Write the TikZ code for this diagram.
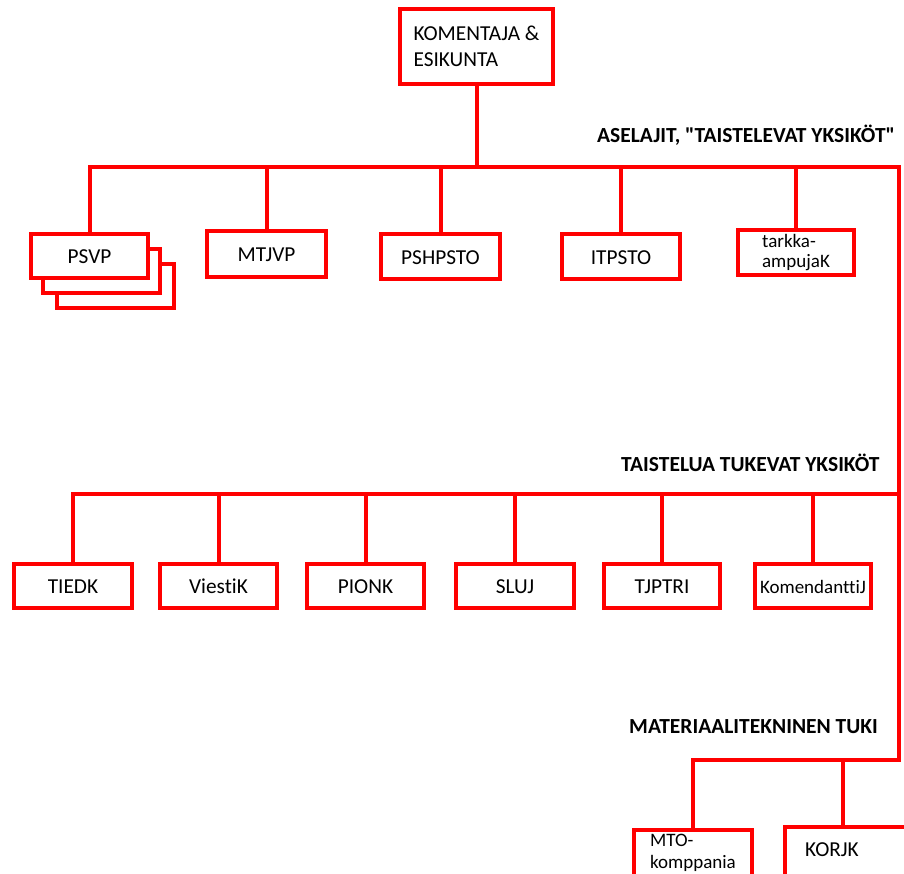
\documentclass[tikz,border=0pt]{standalone}
\usepackage{fontspec}
\setmainfont{Carlito}[Ligatures={NoCommon}]
\begin{document}
\begin{tikzpicture}[x=1pt,y=-1pt,
  wire/.style={draw=red, line width=4pt},
  unit/.style={draw=red, line width=4pt, fill=white, rectangle, inner sep=0pt,
    text=black, font=\fontsize{21.3}{26}\selectfont},
  oneline/.style={unit, text height=15.5pt, text depth=0pt},
  smallunit/.style={unit, font=\fontsize{19}{20}\selectfont},
  heading/.style={font=\bfseries\fontsize{21.5}{26}\selectfont, text=black,
    anchor=base west, inner sep=0pt}
]
\useasboundingbox (0,0) rectangle (904,873);
\clip (0,0) rectangle (904,873);

% headquarters
\node[unit, minimum width=153pt, minimum height=75pt, align=left] (hq) at (476.5,46.5) {KOMENTAJA \&\\ESIKUNTA};

% combat units
\node[unit, minimum width=117pt, minimum height=44pt] (psvpC) at (115.5,286) {};
\node[unit, minimum width=117pt, minimum height=44pt] (psvpB) at (101.5,271) {};
\node[oneline, minimum width=117pt, minimum height=44pt] (psvp) at (89.5,256) {PSVP};
\node[oneline, minimum width=119pt, minimum height=46pt] (mtjvp) at (266.5,254) {MTJVP};
\node[oneline, minimum width=119pt, minimum height=45pt] (pshpsto) at (440.5,256.5) {PSHPSTO};
\node[oneline, minimum width=118pt, minimum height=45pt] (itpsto) at (621,256.5) {ITPSTO};
\node[smallunit, minimum width=116pt, minimum height=45pt, align=left] (sniper) at (796,252.5) {tarkka-\\ampujaK};

% combat support units
\node[oneline, minimum width=118pt, minimum height=44pt] (tiedk) at (73,586) {TIEDK};
\node[oneline, minimum width=117pt, minimum height=44pt] (viestik) at (218.5,586) {ViestiK};
\node[oneline, minimum width=117pt, minimum height=44pt] (pionk) at (365.5,586) {PIONK};
\node[oneline, minimum width=118pt, minimum height=44pt] (sluj) at (515,586) {SLUJ};
\node[oneline, minimum width=116pt, minimum height=44pt] (tjptri) at (662,586) {TJPTRI};
\node[smallunit, minimum width=116pt, minimum height=44pt, text height=14pt, text depth=0pt] (komj) at (813,586) {KomendanttiJ};

% logistics units
\node[unit, minimum width=118pt, minimum height=46pt, align=left, font=\fontsize{19}{22}\selectfont] (mto) at (693,853) {MTO-\\komppania};
\node[unit, minimum width=128pt, minimum height=70pt] (korjk) at (849,862) {};
\node[font=\fontsize{21.3}{26}\selectfont, text=black, anchor=base west, inner sep=0pt] (korjktext) at (805,856) {KORJK};

% bus lines
\coordinate (b1R) at (899,167);
\coordinate (b2R) at (899,494);
\coordinate (b3R) at (899,760);
\coordinate (kdrop) at (843,760);

\draw[wire] (hq.south) -- (hq.south |- b1R);
\draw[wire] (psvp.north) -- (psvp.north |- b1R) -- (b1R) -- (b3R) -- (mto.north |- b3R) -- (mto.north);
\foreach \n in {mtjvp,pshpsto,itpsto,sniper}
  \draw[wire] (\n.north |- b1R) -- (\n.north);
\draw[wire] (tiedk.north) -- (tiedk.north |- b2R) -- (b2R);
\foreach \n in {viestik,pionk,sluj,tjptri,komj}
  \draw[wire] (\n.north |- b2R) -- (\n.north);
\draw[wire] (kdrop) -- (kdrop |- korjk.north);

% group headings
\node[heading] (h1) at (597,142) {ASELAJIT, \textquotedbl TAISTELEVAT YKSIKÖT\textquotedbl};
\node[heading] (h2) at (621,471) {TAISTELUA TUKEVAT YKSIKÖT};
\node[heading] (h3) at (629,733) {MATERIAALITEKNINEN TUKI};
\end{tikzpicture}
\end{document}
